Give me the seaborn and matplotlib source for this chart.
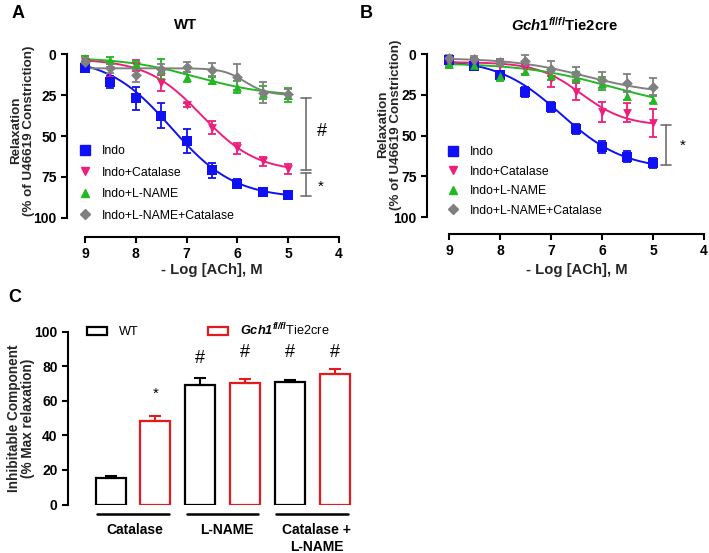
import numpy as np
import pandas as pd
import matplotlib
matplotlib.use("Agg")
import matplotlib.pyplot as plt
import seaborn as sns
from matplotlib.lines import Line2D
from matplotlib.patches import Patch

# ---------------- data ----------------
log_ach = [9, 8.5, 8, 7.5, 7, 6.5, 6, 5.5, 5]
series_names = ["Indo", "Indo+Catalase", "Indo+L-NAME", "Indo+L-NAME+Catalase"]

wt_indo = [8.5, 17, 27, 37.5, 53, 71, 79, 84, 86]
wt_indo_err = [2, 3.5, 7, 7.5, 7.5, 4.5, 3, 2.5, 2.5]
wt_cat = [5, 10, 7, 17.5, 31, 45, 57.5, 65.5, 70]
wt_cat_err = [4, 4, 3.5, 5, 1, 4, 3.5, 2.5, 3]
wt_lname = [2.5, 3.5, 6, 9, 14, 16, 20, 23.5, 25]
wt_lname_err = [1.5, 1.5, 2, 6, 3, 2, 3.5, 4, 4.5]
wt_both = [5, 8.5, 13, 9, 8, 9.5, 14, 23.5, 24.5]
wt_both_err = [3, 3, 4, 3, 3, 4, 8, 6.5, 3]

gch_indo = [3.5, 7.5, 13, 23.5, 32.5, 46, 57, 63, 67]
gch_indo_err = [1.5, 2, 2, 3, 3, 3, 3.5, 3.5, 3]
gch_cat = [5.5, 5.5, 7, 9, 15.5, 23, 35.5, 36, 42.5]
gch_cat_err = [3, 3, 4, 3, 5, 5, 6, 6, 8.5]
gch_lname = [6, 7, 13.5, 10.5, 13, 14, 18, 25.5, 28]
gch_lname_err = [1.5, 1.5, 3, 2.5, 3, 3, 4, 3, 2]
gch_both = [2.5, 3, 5, 4.5, 9, 12, 16, 17.5, 20]
gch_both_err = [2, 1.5, 2, 4, 4.5, 4, 5, 5.5, 5]

# fitted curve parameters: top, bottom, pEC50, hill
wt_fits = [(2, 88, 7.3, 0.7), (3, 72, 6.7, 0.8), (2, 26, 6.8, 0.6), (8.7, 25, 5.85, 2.0)]
gch_fits = [(3, 71, 6.8, 0.7), (5, 44, 6.4, 1.0), (5.5, 35, 5.8, 0.5), (2.5, 25, 6.3, 0.6)]

# panel C
bar_groups = ["Catalase", "L-NAME", "Catalase +\nL-NAME"]
genotypes = ["WT", "Gch1"]
inhib_wt = [15.5, 69, 70.8]
inhib_wt_err = [1.2, 4.5, 1.5]
inhib_gch = [48.5, 70.5, 75.5]
inhib_gch_err = [3, 2.5, 3.3]

# ---------------- style ----------------
sns.set_theme(style="ticks")
plt.rcParams.update({
    "font.family": ["Liberation Sans", "DejaVu Sans"],
    "font.weight": "bold",
    "axes.labelweight": "bold",
    "mathtext.fontset": "custom",
    "mathtext.rm": "Liberation Sans:bold",
    "mathtext.it": "Liberation Sans:italic:bold",
    "mathtext.bf": "Liberation Sans:bold",
    "mathtext.sf": "Liberation Sans:italic",
    "axes.linewidth": 1.5,
    "xtick.major.width": 1.5,
    "ytick.major.width": 1.5,
    "xtick.major.size": 4,
    "ytick.major.size": 4,
    "xtick.labelsize": 10,
    "ytick.labelsize": 10,
    "axes.edgecolor": "black",
    "xtick.color": "black",
    "ytick.color": "black",
    "text.color": "black",
})

colors = ["#1010f5", "#ee1f7c", "#22b822", "#808080"]
markers = ["s", "v", "^", "D"]
msizes = [42, 40, 40, 30]

W, H = 709, 553
fig = plt.figure(figsize=(W / 100, H / 100), dpi=100)


def px_axes(l, r, t, b):
    return fig.add_axes([l / W, 1 - b / H, (r - l) / W, (b - t) / H])


def logistic(x, top, bottom, p50, h):
    return top + (bottom - top) / (1 + 10 ** ((x - p50) * h))


def curve_panel(ax, vals, errs, fits, xlim, ylim, legend_anchor, labelspacing):
    xs = np.linspace(9, 5, 200)
    for v, e, f, c, m, s in zip(vals, errs, fits, colors, markers, msizes):
        sns.lineplot(x=xs, y=logistic(xs, *f), color=c, lw=1.4, ax=ax, zorder=2)
        ax.errorbar(log_ach, v, yerr=e, fmt="none", ecolor=c, elinewidth=1.3,
                    capsize=3, capthick=1.3, zorder=3)
        sns.scatterplot(x=log_ach, y=v, marker=m, color=c, s=s, linewidth=0,
                        ax=ax, zorder=4)
    ax.set_xlim(*xlim)
    ax.set_ylim(*ylim)
    ax.set_xticks([9, 8, 7, 6, 5, 4])
    ax.set_yticks([0, 25, 50, 75, 100])
    ax.spines["top"].set_visible(False)
    ax.spines["right"].set_visible(False)
    ax.spines["left"].set_bounds(0, 100)
    ax.spines["bottom"].set_bounds(4, 9)
    for lab in ax.get_xticklabels() + ax.get_yticklabels():
        lab.set_fontweight("bold")
    ax.set_xlabel("- Log [ACh], M", fontsize=10.7, fontweight="bold")
    ax.set_ylabel("Relaxation\n(% of U46619 Constriction)", fontsize=9.6,
                  fontweight="bold", linespacing=1.05)
    handles = [Line2D([], [], marker=m, color=c, linestyle="none",
                      markersize=np.sqrt(s)) for c, m, s in zip(colors, markers, msizes)]
    ax.legend(handles, series_names, loc="upper left", bbox_to_anchor=legend_anchor,
              bbox_transform=fig.transFigure, frameon=False, borderpad=0,
              borderaxespad=0, handlelength=1.0, handletextpad=0.9,
              labelspacing=labelspacing, prop={"size": 8.8, "weight": "normal"})


# ---------------- panel A ----------------
axA = px_axes(67, 340, 47, 237)
curve_panel(axA, [wt_indo, wt_cat, wt_lname, wt_both],
            [wt_indo_err, wt_cat_err, wt_lname_err, wt_both_err], wt_fits,
            (9.354, 3.98), (111.6, -4.3), (78.5 / W, 1 - 145 / H), 0.78)
axA.xaxis.set_label_coords(0.53, -0.137)
axA.yaxis.set_label_coords(-0.117, 0.56)
bc = "#6e6e6e"
for y0, y1 in [(26.8, 70.8), (72.6, 86.8)]:
    axA.plot([4.65, 4.65], [y0, y1], color=bc, lw=1.2, clip_on=False)
    for yy in (y0, y1):
        axA.plot([4.75, 4.55], [yy, yy], color=bc, lw=1.2, clip_on=False)
axA.text(4.33, 47, "#", fontsize=13, fontweight="normal", ha="center", va="center")
axA.text(4.35, 81, "*", fontsize=11, fontweight="normal", ha="center", va="center")

# ---------------- panel B ----------------
axB = px_axes(427, 705, 47, 234)
curve_panel(axB, [gch_indo, gch_cat, gch_lname, gch_both],
            [gch_indo_err, gch_cat_err, gch_lname_err, gch_both_err], gch_fits,
            (9.431, 3.98), (110.4, -4.3), (446.5 / W, 1 - 146 / H), 0.62)
axB.xaxis.set_label_coords(0.538, -0.155)
axB.yaxis.set_label_coords(-0.09, 0.585)
axB.plot([4.75, 4.75], [43.5, 67.8], color=bc, lw=1.2, clip_on=False)
for yy in (43.5, 67.8):
    axB.plot([4.85, 4.65], [yy, yy], color=bc, lw=1.2, clip_on=False)
axB.text(4.41, 56.5, "*", fontsize=11, fontweight="normal", ha="center", va="center")

# ---------------- panel C ----------------
axC = px_axes(68, 357, 321.6, 504.5)
vals_c, errs_c, geno_c, pos_c = [], [], [], []
for i in range(len(bar_groups)):
    vals_c += [inhib_wt[i], inhib_gch[i]]
    errs_c += [inhib_wt_err[i], inhib_gch_err[i]]
    geno_c += genotypes
    pos_c += [f"b{2 * i}", f"b{2 * i + 1}"]
dfc = pd.DataFrame({"pos": pos_c, "value": vals_c, "geno": geno_c})
bar_colors = {"WT": "black", "Gch1": "#e41a1c"}
sns.barplot(data=dfc, x="pos", y="value", hue="geno", palette=bar_colors,
            dodge=False, fill=False, width=0.667, linewidth=1.6, errorbar=None,
            legend=False, ax=axC)
for p in axC.patches:
    p.set_facecolor("white")
for i, (v, e, g) in enumerate(zip(vals_c, errs_c, geno_c)):
    axC.errorbar([i], [v], yerr=[[0], [e]], fmt="none", ecolor=bar_colors[g],
                 elinewidth=1.5, capsize=4.3, capthick=1.5, zorder=1)
axC.set_xlim(-0.95, 5.5)
axC.set_ylim(0, 106)
axC.set_yticks([0, 20, 40, 60, 80, 100])
for lab in axC.get_yticklabels():
    lab.set_fontweight("bold")
axC.spines["top"].set_visible(False)
axC.spines["right"].set_visible(False)
axC.spines["bottom"].set_visible(False)
axC.spines["left"].set_bounds(0, 100)
axC.tick_params(axis="x", bottom=False, labelbottom=False)
axC.set_xlabel("")
axC.set_ylabel("Inhibitable Component\n(% Max relaxation)", fontsize=9.8,
               fontweight="bold", linespacing=1.05)
axC.yaxis.set_label_coords(-0.114, 0.47)

axC.text(1, 64, "*", fontsize=11, fontweight="normal", ha="center", va="center")
for xi, yi in [(2, 84.7), (3, 88.2), (4, 88.2), (5, 88.2)]:
    axC.text(xi, yi, "#", fontsize=13, fontweight="normal", ha="center", va="center")

group_x = [0.5, 2.5, 4.5]
label_x = [0.55, 2.6, 4.6]
for gx in group_x:
    axC.plot([gx - 0.8, gx + 0.8], [-5.5, -5.5], color="black", lw=1.8, clip_on=False)
for lx, lab in zip(label_x, bar_groups):
    lines = lab.split("\n")
    for j, ln in enumerate(lines):
        axC.text(lx, -14.8 - 9.8 * j, ln, fontsize=10, fontweight="bold",
                 ha="center", va="center", clip_on=False)

leg_handles = [Patch(facecolor="white", edgecolor="black", linewidth=1.6),
               Patch(facecolor="white", edgecolor="#e41a1c", linewidth=1.6)]
axC.legend(leg_handles, ["WT", r"$\mathsf{Gch1}^{\mathsf{fl/fl}}$Tie2cre"], ncol=2,
           loc="center left", bbox_to_anchor=(87 / W, 1 - 330 / H),
           bbox_transform=fig.transFigure, frameon=False, borderpad=0,
           borderaxespad=0, handlelength=1.6, handleheight=0.55,
           handletextpad=0.9, columnspacing=5.4,
           prop={"size": 9.2, "weight": "normal"})

# ---------------- titles & panel letters ----------------
fig.text(185 / W, 1 - 25 / H, "WT", fontsize=10.7, fontweight="bold", ha="center", va="center")
fig.text(564 / W, 1 - 25 / H, r"$\mathit{Gch1}^{fl/fl}$Tie2cre", fontsize=10.7,
         fontweight="bold", ha="center", va="center")
for lx, ly, t in [(18, 13, "A"), (366, 13, "B"), (15, 297, "C")]:
    fig.text(lx / W, 1 - ly / H, t, fontsize=13, fontweight="bold", ha="center", va="center")

fig.savefig("out.png", dpi=100)
